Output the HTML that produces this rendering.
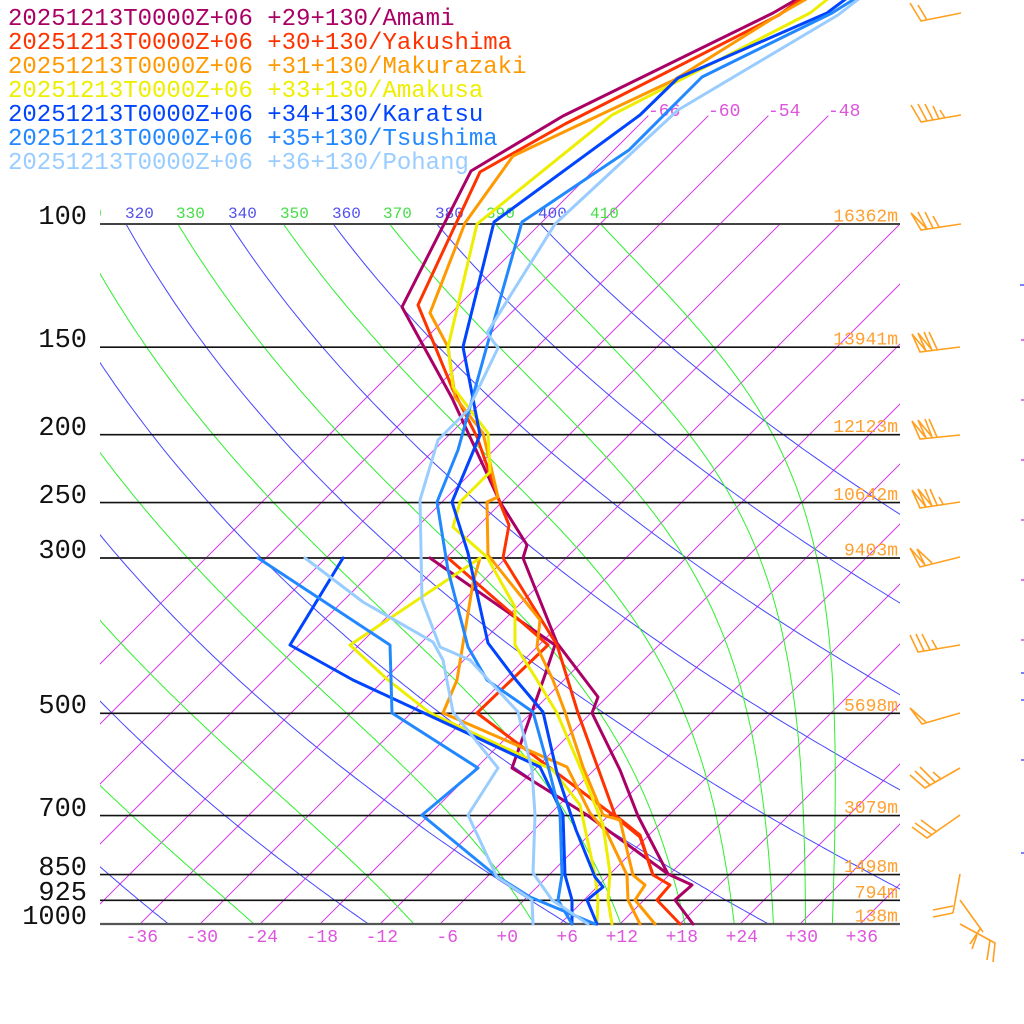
<!DOCTYPE html>
<html><head><meta charset="utf-8"><style>
html,body{margin:0;padding:0;background:#fff;}
svg{display:block;}
text{font-family:"Liberation Mono","DejaVu Sans Mono",monospace;}
</style></head><body>
<svg id="sk" width="1024" height="1024" viewBox="0 0 1024 1024">
<defs>
<clipPath id="pc"><rect x="100" y="224" width="800" height="700"/></clipPath>
<clipPath id="ic"><rect x="100" y="110" width="800" height="814"/></clipPath>
<clipPath id="lc"><rect x="100" y="190" width="924" height="40"/></clipPath>
</defs>
<rect width="1024" height="1024" fill="#fff"/>

<!-- isotherms -->
<g clip-path="url(#ic)" stroke="#d63ceb" stroke-width="1" fill="none">
<path d="M-160,924L648.4,115.6M-100,924L708.4,115.6M-40,924L768.4,115.6M20,924L828.4,115.6M80,924L780,224M140,924L840,224M200,924L900,224M260,924L960,224M320,924L1020,224M380,924L1080,224M440,924L1140,224M500,924L1200,224M560,924L1260,224M620,924L1320,224M680,924L1380,224M740,924L1440,224M800,924L1500,224M860,924L1560,224"/>
</g>
<!-- adiabats -->
<g id="dry" clip-path="url(#pc)" stroke-width="1" fill="none"></g>
<g id="moist" clip-path="url(#pc)" stroke-width="1" fill="none"></g>

<!-- pressure lines -->
<g stroke="#111" stroke-width="1.6">
<line x1="100" y1="224" x2="900" y2="224" stroke="#444" stroke-width="2"/>
<line x1="100" y1="347.2" x2="900" y2="347.2"/>
<line x1="100" y1="434.7" x2="900" y2="434.7"/>
<line x1="100" y1="502.6" x2="900" y2="502.6"/>
<line x1="100" y1="558" x2="900" y2="558" stroke="#333" stroke-width="2"/>
<line x1="100" y1="713.3" x2="900" y2="713.3"/>
<line x1="100" y1="815.6" x2="900" y2="815.6"/>
<line x1="100" y1="874.6" x2="900" y2="874.6"/>
<line x1="100" y1="900.3" x2="900" y2="900.3"/>
<line x1="100" y1="924" x2="900" y2="924" stroke="#555" stroke-width="2.2"/>
</g>

<!-- pressure labels -->
<g font-size="27" fill="#111" text-anchor="end">
<text x="87" y="224">100</text>
<text x="87" y="347">150</text>
<text x="87" y="435">200</text>
<text x="87" y="503">250</text>
<text x="87" y="558">300</text>
<text x="87" y="713">500</text>
<text x="87" y="816">700</text>
<text x="87" y="875">850</text>
<text x="87" y="900">925</text>
<text x="87" y="924">1000</text>
</g>

<!-- theta labels -->
<g clip-path="url(#lc)" font-size="16">
<text x="73" y="218" fill="#44dd44">310</text>
<text x="125" y="218" fill="#5050ee">320</text>
<text x="176" y="218" fill="#44dd44">330</text>
<text x="228" y="218" fill="#5050ee">340</text>
<text x="280" y="218" fill="#44dd44">350</text>
<text x="332" y="218" fill="#5050ee">360</text>
<text x="383" y="218" fill="#44dd44">370</text>
<text x="435" y="218" fill="#5050ee">380</text>
<text x="486" y="218" fill="#44dd44">390</text>
<text x="538" y="218" fill="#5050ee">400</text>
<text x="590" y="218" fill="#44dd44">410</text>
</g>

<!-- isotherm top labels -->
<g font-size="18" fill="#dd55dd">
<text x="648" y="116">-66</text>
<text x="708" y="116">-60</text>
<text x="768" y="116">-54</text>
<text x="828" y="116">-48</text>
</g>

<!-- bottom temperature labels -->
<g font-size="18" fill="#dd55dd" text-anchor="end">
<text x="158" y="942">-36</text>
<text x="218" y="942">-30</text>
<text x="278" y="942">-24</text>
<text x="338" y="942">-18</text>
<text x="398" y="942">-12</text>
<text x="458" y="942">-6</text>
<text x="518" y="942">+0</text>
<text x="578" y="942">+6</text>
<text x="638" y="942">+12</text>
<text x="698" y="942">+18</text>
<text x="758" y="942">+24</text>
<text x="818" y="942">+30</text>
<text x="878" y="942">+36</text>
</g>

<!-- height labels -->
<g font-size="18" fill="#ffa030" text-anchor="end">
<text x="898" y="221.5">16362m</text>
<text x="898" y="344.5">13941m</text>
<text x="898" y="432">12123m</text>
<text x="898" y="500">10642m</text>
<text x="898" y="555.5">9403m</text>
<text x="898" y="711">5698m</text>
<text x="898" y="813">3079m</text>
<text x="898" y="872">1498m</text>
<text x="898" y="898">794m</text>
<text x="898" y="921.5">138m</text>
</g>

<!-- data -->
<g fill="none" stroke-width="3" stroke-linejoin="round" stroke-linecap="round">
<polyline stroke="#aa0066" points="799,-2 773,13 563,116 471,171 402,307 452,398 476,450 500,502 527,545 523,558 557,643 598,697 592,713 620,770 638,816 668,874 692,885 675,900 693,924"/>
<polyline stroke="#aa0066" points="430,558 555,645 545,675 512,768 587,815 668,874"/>
<polyline stroke="#ff3300" points="802,-2 779,15 565,124 480,172 418,305 453,390 477,437 500,503 509,525 503,558 557,645 578,713 615,815 640,835 653,875 670,885 657,900 680,924"/>
<polyline stroke="#ff3300" points="448,558 548,645 477,713 613,815 640,837 653,875"/>
<polyline stroke="#ff9900" points="808,-2 775,17 674,80 513,156 465,223 430,313 448,347 455,397 483,433 498,497 487,502 488,555 540,620 537,647 553,680 565,712 583,767 603,815 620,820 627,850 633,875 645,885 635,900 655,924"/>
<polyline stroke="#ff9900" points="480,558 473,583 457,680 443,713 567,767 590,813 607,833 627,875 628,900 640,924"/>
<polyline stroke="#eeee00" points="829,-2 810,13 612,115 477,224 448,347 453,387 468,407 488,433 490,472 460,502 453,527 487,557 515,607 515,645 537,680 557,713 580,767 603,825 610,873 608,900 612,924"/>
<polyline stroke="#eeee00" points="480,558 350,645 388,680 430,713 553,770 580,805 595,875 598,900 597,924"/>
<polyline stroke="#0044ff" points="847,-2 827,13 678,78 640,115 494,222 463,347 480,435 452,502 468,553 488,643 516,680 543,712 557,773 576,830 595,877 603,887 587,900 597,924"/>
<polyline stroke="#0044ff" points="343,558 290,645 353,680 540,767 563,815 565,875 572,900 572,924"/>
<polyline stroke="#2288ff" points="856,-2 832,13 702,77 629,150 522,222 490,335 458,450 437,502 448,570 468,647 487,680 533,712 548,766 560,813 562,875 558,900 572,924"/>
<polyline stroke="#2288ff" points="258,558 390,645 392,713 478,768 422,815 495,875 530,897 595,924"/>
<polyline stroke="#99ccff" points="860,-2 838,15 678,110 555,224 487,333 498,348 468,410 438,440 420,500 422,600 440,647 470,660 518,712 532,770 535,815 533,873 552,900 588,924"/>
<polyline stroke="#99ccff" points="305,558 363,602 433,642 443,660 453,712 498,768 468,815 497,877 532,900 533,924"/>
</g>

<!-- wind barbs -->
<g fill="none" stroke="#ffa020" stroke-width="1.6" stroke-linejoin="miter">
<path d="M961,13 L921,21 L910,3 M927,20 L918,5"/>
<path d="M961,115 L921,122 L911,105 M927,121 L918,104 M933,120 L925,104 M939,119 L933,106 M945,118 L940,110"/>
<path d="M961,224 L921,230 L911,213 L927,229 L918,212 M933,228 L925,212 M939,227 L933,216"/>
<path d="M960,347 L920,352 L912,334 L926,351 L918,333 L932,350 M932,350 L924,332 M937,349 L929,332"/>
<path d="M960,435 L920,439 L912,421 L926,438 L918,420 L932,437 M932,437 L925,419 M937,437 L929,419"/>
<path d="M960,502 L920,508 L912,490 L926,507 L918,489 L932,506 M932,506 L925,489 M937,505 L930,489 M943,504 L939,497"/>
<path d="M960,557 L920,567 L910,548 L925,565 L917,549 L932,563"/>
<path d="M960,645 L918,652 L910,635 M924,651 L916,634 M930,650 L922,634 M937,649 L932,640"/>
<path d="M960,713 L922,724 L910,708 L926,722"/>
<path d="M960,768 L925,788 L910,775 M930,785 L915,771 M935,782 L920,767 M941,779 L933,772"/>
<path d="M960,815 L927,838 L912,827 M932,835 L915,823 M937,832 L921,820"/>
<path d="M960,874 L953,913 M953,906 L933,910 M953,913 L933,917"/>
<path d="M960,900 L983,932 M980,929 L970,944 M977,935 L972,949"/>
<path d="M960,924 L995,943 L993,962 M990,940 L987,960"/>
</g>

<!-- right edge marks -->
<g stroke-width="1.5">
<line x1="1020" y1="285" x2="1024" y2="285" stroke="#5050ff"/>
<line x1="1021" y1="340" x2="1024" y2="340" stroke="#d050e0"/>
<line x1="1021" y1="400" x2="1024" y2="400" stroke="#d050e0"/>
<line x1="1021" y1="460" x2="1024" y2="460" stroke="#d050e0"/>
<line x1="1021" y1="520" x2="1024" y2="520" stroke="#d050e0"/>
<line x1="1021" y1="580" x2="1024" y2="580" stroke="#d050e0"/>
<line x1="1021" y1="640" x2="1024" y2="640" stroke="#d050e0"/>
<line x1="1021" y1="673" x2="1024" y2="673" stroke="#5050ff"/>
<line x1="1021" y1="700" x2="1024" y2="700" stroke="#5050ff"/>
<line x1="1021" y1="760" x2="1024" y2="760" stroke="#5050ff"/>
<line x1="1021" y1="853" x2="1024" y2="853" stroke="#5050ff"/>
</g>

<!-- legend -->
<g font-size="24">
<text x="8" y="25" fill="#aa0066">20251213T0000Z+06 +29+130/Amami</text>
<text x="8" y="49" fill="#ff3300">20251213T0000Z+06 +30+130/Yakushima</text>
<text x="8" y="73" fill="#ff9900">20251213T0000Z+06 +31+130/Makurazaki</text>
<text x="8" y="97" fill="#eeee00">20251213T0000Z+06 +33+130/Amakusa</text>
<text x="8" y="121" fill="#0044ff">20251213T0000Z+06 +34+130/Karatsu</text>
<text x="8" y="145" fill="#2288ff">20251213T0000Z+06 +35+130/Tsushima</text>
<text x="8" y="169" fill="#99ccff">20251213T0000Z+06 +36+130/Pohang</text>
</g>
</svg>
<script>
(function(){
var L10=Math.log(10);
function Y(p){return 924-700*Math.log(1000/p)/L10;}
function X(t,p){return 500+10*t+(924-Y(p));}
function es(t){return 6.112*Math.exp(17.67*t/(t+243.5));}
function rs(t,p){var e=es(t);return 0.622*e/(p-e);}
function the(t,p){var T=t+273.15,r=rs(t,p);return T*Math.pow(1000/p,0.2854*(1-0.28*r))*Math.exp((3.376/T-0.00254)*r*1000*(1+0.81*r));}
function f(T,p){var r=rs(T-273.15,p);var Lv=2.501e6,Rd=287.04,cp=1005.7,eps=0.622;return (Rd*T+Lv*r)/(cp+Lv*Lv*r*eps/(Rd*T*T))/p;}
var svg=document.getElementById('sk');var ns=svg.namespaceURI;
function add(g,d,c){var e=document.createElementNS(ns,'path');e.setAttribute('d',d);e.setAttribute('stroke',c);g.appendChild(e);}
var gd=document.getElementById('dry'),gm=document.getElementById('moist');
var th,p,d,t;
for(th=240;th<=400;th+=20){d='';for(p=1000;p>=99.9;p-=5){t=th*Math.pow(p/1000,0.2857)-273.15;d+=(d?'L':'M')+X(t,p).toFixed(1)+','+Y(p).toFixed(1);}add(gd,d,'#4646ff');}
for(var te=250;te<=410;te+=20){var lo=-60,hi=50;for(var i=0;i<60;i++){var m=(lo+hi)/2;if(the(m,1000)<te)lo=m;else hi=m;}
var T=(lo+hi)/2+273.15;d='';
for(p=1000;p>=99.9;p-=2){d+=(d?'L':'M')+X(T-273.15,p).toFixed(1)+','+Y(p).toFixed(1);
var h=-2,k1=f(T,p),k2=f(T+h/2*k1,p+h/2),k3=f(T+h/2*k2,p+h/2),k4=f(T+h*k3,p+h);T+=h/6*(k1+2*k2+2*k3+k4);}
add(gm,d,'#2ef02e');}
})();
</script>
</body></html>
